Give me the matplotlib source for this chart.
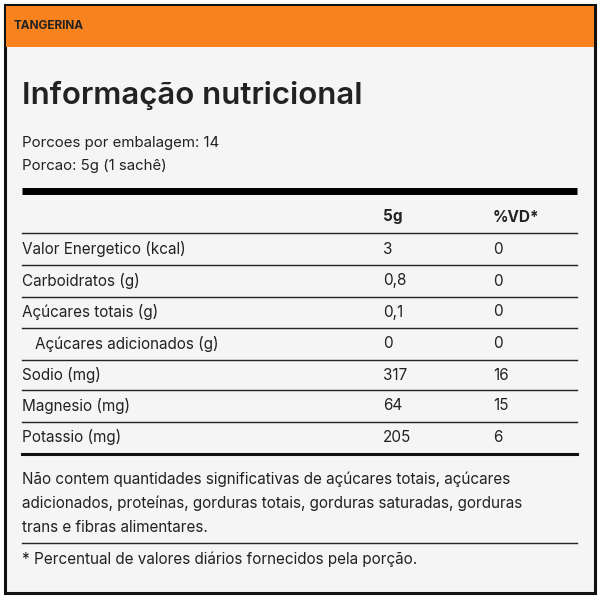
import matplotlib
matplotlib.use("Agg")
import matplotlib.pyplot as plt

header = "TANGERINA"
title = "Informação nutricional"
servings = ["Porcoes por embalagem: 14", "Porcao: 5g (1 sachê)"]
col_heads = ["5g", "%VD*"]
nutrients = ["Valor Energetico (kcal)", "Carboidratos (g)", "Açúcares totais (g)",
             "Açúcares adicionados (g)", "Sodio (mg)", "Magnesio (mg)", "Potassio (mg)"]
indent = [0, 0, 0, 1, 0, 0, 0]
amounts = ["3", "0,8", "0,1", "0", "317", "64", "205"]
vd = ["0", "0", "0", "0", "16", "15", "6"]
note = ["Não contem quantidades significativas de açúcares totais, açúcares",
        "adicionados, proteínas, gorduras totais, gorduras saturadas, gorduras",
        "trans e fibras alimentares."]
footnote = "* Percentual de valores diários fornecidos pela porção."

plt.rcParams['font.family'] = ['Inter', 'DejaVu Sans']
fig = plt.figure(figsize=(6, 6), dpi=100)
ax = fig.add_axes([0, 0, 1, 1])
ax.set_xlim(0, 600); ax.set_ylim(600, 0); ax.axis('off')
fig.patch.set_facecolor('white')

ax.add_patch(plt.Rectangle((5, 5), 590, 588, facecolor='#F5F5F5', edgecolor='#111111', lw=2.2))
ax.add_patch(plt.Rectangle((6, 6), 588, 41, facecolor='#F7821E', edgecolor='none'))
ax.text(14, 26, header, fontsize=8.5, fontweight='bold', va='center', color='#222')
ax.text(22, 95, title, fontsize=22.5, fontweight='semibold', va='center', color='#222')
for i, s in enumerate(servings):
    ax.text(22, 143 + 23 * i, s, fontsize=10.8, va='center', color='#222')
ax.plot([22, 577], [191, 191], color='black', lw=5, solid_capstyle='butt')

fs = 11
ax.text(383, 217, col_heads[0], fontsize=fs, fontweight='bold', va='center', color='#222')
ax.text(493, 217, col_heads[1], fontsize=fs, fontweight='bold', va='center', color='#222')
ys = [249, 281, 312, 344, 375, 406, 437]
for y in [233, 265, 297, 328, 360, 390, 422]:
    ax.plot([22, 577], [y, y], color='#222', lw=1)
for n, ind, a, v, y in zip(nutrients, indent, amounts, vd, ys):
    ax.text(22 + 13 * ind, y, n, fontsize=fs, va='center', color='#222')
    ax.text(383, y, a, fontsize=fs, va='center', color='#222')
    ax.text(493, y, v, fontsize=fs, va='center', color='#222')
ax.plot([22, 577], [454, 454], color='#111', lw=2.2)
for i, s in enumerate(note):
    ax.text(22, 479 + 24 * i, s, fontsize=fs, va='center', color='#222')
ax.plot([22, 577], [543, 543], color='#222', lw=1)
ax.text(22, 559, footnote, fontsize=fs, va='center', color='#222')
fig.savefig('out.png', dpi=100)
